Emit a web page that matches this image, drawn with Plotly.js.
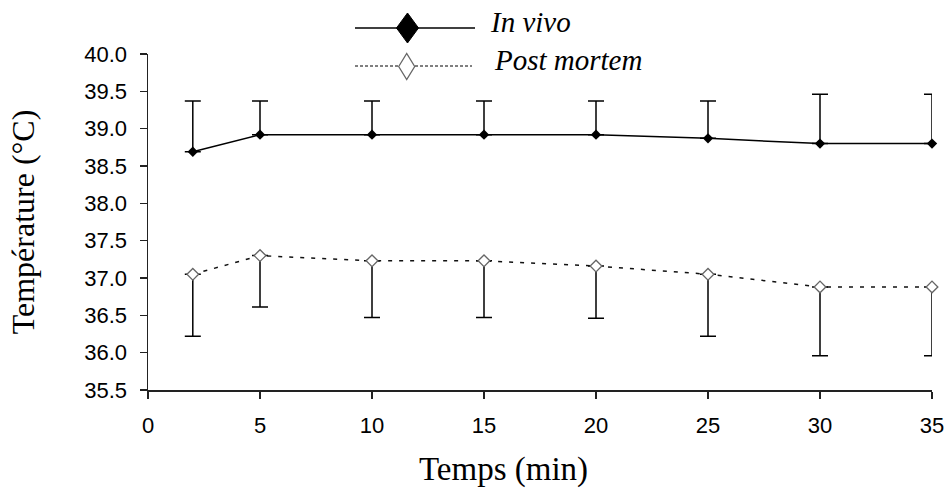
<!DOCTYPE html>
<html>
<head>
<meta charset="utf-8">
<script src="https://cdn.plot.ly/plotly-3.0.1.min.js"></script>
<style>html,body{margin:0;padding:0;background:#fff;}#chart{width:947px;height:492px;}</style>
</head>
<body>
<div id="chart"></div>
<script>
// Data
const times = [2, 5, 10, 15, 20, 25, 30, 35];
const inVivo = [38.69, 38.92, 38.92, 38.92, 38.92, 38.87, 38.80, 38.80];
const inVivoErr = [0.68, 0.45, 0.45, 0.45, 0.45, 0.50, 0.66, 0.66];
const postMortem = [37.05, 37.30, 37.23, 37.23, 37.16, 37.05, 36.88, 36.88];
const postMortemErr = [0.83, 0.69, 0.76, 0.76, 0.70, 0.83, 0.92, 0.92];
const seriesNames = ['In vivo', 'Post mortem'];
const xTicks = [0, 5, 10, 15, 20, 25, 30, 35];
const yTicks = [35.5, 36.0, 36.5, 37.0, 37.5, 38.0, 38.5, 39.0, 39.5, 40.0];
const xTitle = 'Temps (min)';
const yTitle = 'Température (°C)';

const zeros = times.map(() => 0);

const traces = [
  {
    x: times, y: inVivo, name: seriesNames[0], type: 'scatter', mode: 'lines+markers',
    line: {color: '#000', width: 1.5},
    marker: {symbol: 'diamond', size: 8, color: '#000'},
    error_y: {type: 'data', symmetric: false, array: inVivoErr, arrayminus: zeros, color: '#000', thickness: 1.5, width: 8},
    cliponaxis: false, showlegend: false
  },
  {
    x: times, y: postMortem, name: seriesNames[1], type: 'scatter', mode: 'lines+markers',
    line: {color: '#111', width: 1.5, dash: '4px,7px'},
    marker: {symbol: 'diamond', size: 9, color: '#fff', line: {color: '#666', width: 1.3}},
    error_y: {type: 'data', symmetric: false, array: zeros, arrayminus: postMortemErr, color: '#000', thickness: 1.5, width: 8},
    cliponaxis: false, showlegend: false
  }
];

// plot area in pixels: x 148..932, y 54..390
const L = 148, R = 932, T = 54, B = 390;
const px = v => (v - L) / (R - L);
const py = v => (B - v) / (B - T);
const serif = 'Liberation Serif, Times New Roman, serif';

const layout = {
  width: 947, height: 492,
  margin: {l: L, r: 947 - R, t: T, b: 492 - B},
  paper_bgcolor: '#fff', plot_bgcolor: '#fff',
  showlegend: false,
  xaxis: {
    range: [0, 35], tickvals: xTicks, ticktext: xTicks.map(String),
    showgrid: false, zeroline: false, showline: true, linecolor: '#222', linewidth: 1.5,
    ticks: 'outside', ticklen: 7, tickwidth: 1.5, tickcolor: '#222',
    tickfont: {family: 'Liberation Sans, Arial, sans-serif', size: 22, color: '#000'},
    ticklabelstandoff: 8
  },
  yaxis: {
    range: [35.5, 40.0], tickvals: yTicks, ticktext: yTicks.map(v => v.toFixed(1)),
    showgrid: false, zeroline: false, showline: true, linecolor: '#222', linewidth: 1.5,
    ticks: 'outside', ticklen: 7, tickwidth: 1.5, tickcolor: '#222',
    tickfont: {family: 'Liberation Sans, Arial, sans-serif', size: 22, color: '#000'},
    ticklabelstandoff: 8,
    title: {text: yTitle, font: {family: serif, size: 32, color: '#000'}, standoff: 40}
  },
  shapes: [
    {type: 'line', xref: 'paper', yref: 'paper', x0: px(355), x1: px(475), y0: py(28), y1: py(28), line: {color: '#000', width: 1.5}},
    {type: 'line', xref: 'paper', yref: 'paper', x0: px(355), x1: px(472), y0: py(66), y1: py(66), line: {color: '#000', width: 1, dash: '3px,2px'}},
    {type: 'path', xref: 'paper', yref: 'paper', xsizemode: 'pixel', ysizemode: 'pixel', xanchor: px(407.5), yanchor: py(28),
      path: 'M -11,0 L 0,15 L 11,0 L 0,-15 Z', fillcolor: '#000', line: {color: '#000', width: 1}},
    {type: 'path', xref: 'paper', yref: 'paper', xsizemode: 'pixel', ysizemode: 'pixel', xanchor: px(406.7), yanchor: py(66.5),
      path: 'M -8,0 L 0,13 L 8,0 L 0,-13 Z', fillcolor: '#fff', line: {color: '#666', width: 1.3}}
  ],
  annotations: [
    {xref: 'paper', yref: 'paper', x: px(488), y: py(22), xanchor: 'left', yanchor: 'middle', showarrow: false,
      text: seriesNames[0], font: {family: serif, size: 29, style: 'italic', color: '#000'}},
    {xref: 'paper', yref: 'paper', x: px(492), y: py(60), xanchor: 'left', yanchor: 'middle', showarrow: false,
      text: seriesNames[1], font: {family: serif, size: 29, style: 'italic', color: '#000'}},
    {xref: 'paper', yref: 'paper', x: px(503), y: py(469), xanchor: 'center', yanchor: 'middle', showarrow: false,
      text: xTitle, font: {family: serif, size: 33, color: '#000'}}
  ]
};

Plotly.newPlot('chart', traces, layout, {displayModeBar: false, staticPlot: true});
</script>
</body>
</html>
